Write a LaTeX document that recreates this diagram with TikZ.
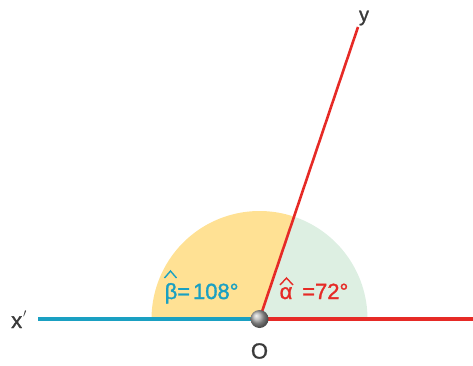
\documentclass[tikz,border=0pt]{standalone}
\usepackage{fontspec}
\setmainfont{Liberation Sans}[FakeBold=1.3]
\definecolor{fillY}{HTML}{FFE194}
\definecolor{fillG}{HTML}{DDEFE2}
\definecolor{lineB}{HTML}{1AA0C2}
\definecolor{lineR}{HTML}{E62A26}
\definecolor{txtG}{HTML}{3A3A3A}
\tikzset{
  lbl/.style={font=\fontsize{22}{26}\selectfont, inner sep=0pt},
  ray/.style={line width=3.2pt},
  hatline/.style={line width=1.4pt, line join=miter},
}
\begin{document}
\begin{tikzpicture}[x=1pt,y=1pt]
\useasboundingbox (0,0) rectangle (473,365);
\coordinate (O) at (259.5,46);
\coordinate (Y) at (358,338);
\coordinate (Xp) at (38,46);
\coordinate (X) at (473,46);
% sectors
\fill[fillY] (O) -- ++(72:108) arc[start angle=72,end angle=180,radius=108] -- cycle;
\fill[fillG] (O) -- ++(0:108) arc[start angle=0,end angle=72,radius=108] -- cycle;
% lines
\draw[ray,lineB] (Xp) -- (O);
\draw[ray,lineR] (O) -- (X);
\draw[ray,lineR,line width=2.6pt] (O) -- (Y);
% point O
\shade[ball color=gray!65] (O) circle (9);
% labels
\node[lbl,text=txtG] (lo) at (259.5,14) {O};
\node[lbl,text=txtG,anchor=base west] (lx) at (11,37) {x\kern1pt\raisebox{4pt}{\fontsize{17}{20}\selectfont$'$}};
\node[lbl,text=txtG,font=\fontsize{20}{24}\selectfont] (ly) at (364,347) {y};
% beta label
\node[lbl,text=lineB,anchor=base west] (lb) at (164.5,66) {β};
\node[lbl,text=lineB,anchor=base west] (lbv) at (177,66) {=\kern3pt108°};
\draw[hatline,lineB] ([shift={(0,21)}]lb.base west) -- ([shift={(6,28)}]lb.base west) -- ([shift={(12,21)}]lb.base west);
% alpha label
\node[lbl,text=lineR,anchor=base west] (la) at (279.5,66) {α};
\node[lbl,text=lineR,anchor=base west] (lav) at (302,66) {=72°};
\draw[hatline,lineR] ([shift={(0.5,14)}]la.base west) -- ([shift={(7,21)}]la.base west) -- ([shift={(13.5,14)}]la.base west);
\end{tikzpicture}
\end{document}
